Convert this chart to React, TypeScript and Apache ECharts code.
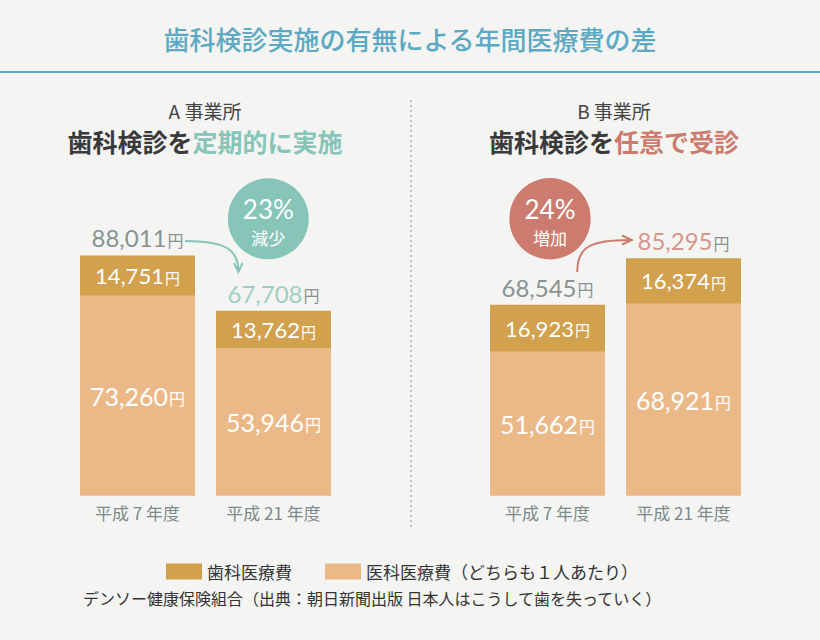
import React, { useEffect, useRef } from "react";
import * as echarts from "echarts";

// ---- data ----
const years = ["平成 7 年度", "平成 21 年度"];
const dentalA = [14751, 13762];
const medicalA = [73260, 53946];
const totalA = [88011, 67708];
const dentalB = [16923, 16374];
const medicalB = [51662, 68921];
const totalB = [68545, 85295];
const changeA = { pct: "23", word: "減少" };
const changeB = { pct: "24", word: "増加" };
const dentalName = "歯科医療費";
const medicalName = "医科医療費（どちらも１人あたり）";

const CJK = '"Noto Sans CJK JP", "Noto Sans", sans-serif';
const NUM = 'Lato, "Noto Sans", sans-serif';
const C_DENTAL = "#d1a14e";
const C_MED = "#ebb988";
const C_TEAL = "#86c5b8";
const C_SALMON = "#cc7b6e";
const C_GRAY = "#687878";
const C_BLUE = "#5ba9c2";

const fmt = (v: number) => v.toLocaleString("en-US");

function barSeries(name: string, data: number[], color: string, idx: number, stack: string, rich: "dental" | "med") {
  return {
    type: "bar",
    name,
    xAxisIndex: idx,
    yAxisIndex: idx,
    stack,
    barWidth: 115,
    data,
    itemStyle: { color },
    label: {
      show: true,
      position: "inside",
      formatter: (p: any) => `{n|${fmt(p.value)}}{y|円}`,
      rich:
        rich === "dental"
          ? {
              n: { fontFamily: NUM, fontSize: 22, fontWeight: 400, color: "#fff" },
              y: { fontFamily: CJK, fontSize: 15, color: "#fff", padding: [3, 0, 0, 1] },
            }
          : {
              n: { fontFamily: NUM, fontSize: 25, fontWeight: 400, color: "#fff" },
              y: { fontFamily: CJK, fontSize: 16, color: "#fff", padding: [4, 0, 0, 1] },
            },
    },
  };
}

function totalSeries(data: number[], idx: number, hlKey: string) {
  return {
    type: "scatter",
    xAxisIndex: idx,
    yAxisIndex: idx,
    symbolSize: 1,
    itemStyle: { color: "transparent" },
    silent: true,
    data,
    label: {
      show: true,
      position: "top",
      distance: 5,
      formatter: (p: any) => `{${p.dataIndex === 0 ? "n" : hlKey}|${fmt(p.value)}}{y|円}`,
      rich: {
        n: { fontFamily: NUM, fontSize: 24, fontWeight: 400, color: C_GRAY },
        t: { fontFamily: NUM, fontSize: 24, fontWeight: 400, color: C_TEAL },
        s: { fontFamily: NUM, fontSize: 24, fontWeight: 400, color: C_SALMON },
        y: { fontFamily: CJK, fontSize: 16, color: C_GRAY, padding: [4, 0, 0, 1] },
      },
    },
  };
}

export default function App() {
  const ref = useRef<HTMLDivElement>(null);
  useEffect(() => {
    document.body.style.margin = "0";
    const chart = echarts.init(ref.current!, null, { renderer: "svg" });
    const grids = [
      { left: 69.5, width: 272, top: 222.7, height: 273 },
      { left: 479.5, width: 272, top: 217.2, height: 278.5 },
    ];
    const xAxis = grids.map((_, i) => ({
      type: "category",
      gridIndex: i,
      data: years,
      axisLine: { show: false },
      axisTick: { show: false },
      axisLabel: { margin: 8, fontFamily: CJK, fontSize: 17, color: "#7b8a8a" },
    }));
    const yAxis = grids.map((_, i) => ({
      type: "value",
      gridIndex: i,
      min: 0,
      max: 100000,
      show: false,
      splitLine: { show: false },
    }));
    const option: any = {
      animation: false,
      backgroundColor: "#f4f4f2",
      grid: grids,
      xAxis,
      yAxis,
      legend: {
        left: 161,
        top: 558,
        itemWidth: 36,
        itemHeight: 16,
        itemGap: 33,
        icon: "rect",
        data: [dentalName, medicalName],
        selectedMode: false,
        textStyle: { fontFamily: CJK, fontSize: 17, color: "#333" },
      },
      series: [
        barSeries(medicalName, medicalA, C_MED, 0, "a", "med"),
        barSeries(dentalName, dentalA, C_DENTAL, 0, "a", "dental"),
        barSeries(medicalName, medicalB, C_MED, 1, "b", "med"),
        barSeries(dentalName, dentalB, C_DENTAL, 1, "b", "dental"),
        totalSeries(totalA, 0, "t"),
        totalSeries(totalB, 1, "s"),
      ],
      graphic: [
        // title
        {
          type: "text",
          x: 410,
          y: 38,
          style: {
            text: "歯科検診実施の有無による年間医療費の差",
            fontFamily: CJK,
            fontSize: 26,
            fontWeight: 500,
            fill: C_BLUE,
            align: "center",
            verticalAlign: "middle",
          },
        },
        { type: "rect", shape: { x: 0, y: 71, width: 820, height: 2 }, style: { fill: C_BLUE } },
        // divider
        {
          type: "line",
          shape: { x1: 411, y1: 100, x2: 411, y2: 530 },
          style: { stroke: "#8a8a8a", lineWidth: 1, lineDash: [2, 3] },
        },
        // panel headings
        {
          type: "text",
          x: 205,
          y: 110,
          style: { text: "A 事業所", fontFamily: CJK, fontSize: 19, fill: "#444", align: "center", verticalAlign: "middle" },
        },
        {
          type: "text",
          x: 205,
          y: 141,
          style: {
            text: "{a|歯科検診を}{b|定期的に実施}",
            align: "center",
            verticalAlign: "middle",
            rich: {
              a: { fontFamily: CJK, fontSize: 25, fontWeight: "bold", fill: "#3a3a3a", color: "#3a3a3a" },
              b: { fontFamily: CJK, fontSize: 25, fontWeight: "bold", fill: C_TEAL, color: C_TEAL },
            },
          },
        },
        {
          type: "text",
          x: 614,
          y: 110,
          style: { text: "B 事業所", fontFamily: CJK, fontSize: 19, fill: "#444", align: "center", verticalAlign: "middle" },
        },
        {
          type: "text",
          x: 614,
          y: 141,
          style: {
            text: "{a|歯科検診を}{b|任意で受診}",
            align: "center",
            verticalAlign: "middle",
            rich: {
              a: { fontFamily: CJK, fontSize: 25, fontWeight: "bold", fill: "#3a3a3a", color: "#3a3a3a" },
              b: { fontFamily: CJK, fontSize: 25, fontWeight: "bold", fill: C_SALMON, color: C_SALMON },
            },
          },
        },
        // circle A
        { type: "circle", shape: { cx: 268.3, cy: 218.8, r: 40.5 }, style: { fill: C_TEAL } },
        {
          type: "text",
          x: 268.3,
          y: 209,
          style: {
            text: `${changeA.pct}%`,
            fontFamily: NUM,
            fontSize: 26,
            fill: "#fff",
            align: "center",
            verticalAlign: "middle",
          },
        },
        {
          type: "text",
          x: 268.3,
          y: 237,
          style: { text: changeA.word, fontFamily: CJK, fontSize: 17, fill: "#fff", align: "center", verticalAlign: "middle" },
        },
        // arrow A
        {
          type: "bezierCurve",
          shape: { x1: 185, y1: 241, cpx1: 226, cpy1: 241, cpx2: 238, cpy2: 250, x2: 238.3, y2: 270 },
          style: { stroke: C_TEAL, lineWidth: 2, fill: "none" },
        },
        {
          type: "polyline",
          shape: { points: [[234, 263], [238.3, 272], [242.6, 263]] },
          style: { stroke: C_TEAL, lineWidth: 2, fill: "none" },
        },
        // circle B
        { type: "circle", shape: { cx: 550, cy: 218.7, r: 40.7 }, style: { fill: C_SALMON } },
        {
          type: "text",
          x: 550,
          y: 209,
          style: {
            text: `${changeB.pct}%`,
            fontFamily: NUM,
            fontSize: 26,
            fill: "#fff",
            align: "center",
            verticalAlign: "middle",
          },
        },
        {
          type: "text",
          x: 550,
          y: 237,
          style: { text: changeB.word, fontFamily: CJK, fontSize: 17, fill: "#fff", align: "center", verticalAlign: "middle" },
        },
        // arrow B
        {
          type: "bezierCurve",
          shape: { x1: 577.3, y1: 272, cpx1: 577, cpy1: 246, cpx2: 592, cpy2: 240, x2: 630, y2: 240 },
          style: { stroke: C_SALMON, lineWidth: 2, fill: "none" },
        },
        {
          type: "polyline",
          shape: { points: [[622, 235.5], [631.7, 240], [622, 244.5]] },
          style: { stroke: C_SALMON, lineWidth: 2, fill: "none" },
        },
        // source
        {
          type: "text",
          x: 83,
          y: 598,
          style: {
            text: "デンソー健康保険組合（出典：朝日新聞出版 日本人はこうして歯を失っていく）",
            fontFamily: CJK,
            fontSize: 16,
            fill: "#333",
            verticalAlign: "middle",
          },
        },
      ],
    };
    chart.setOption(option);
    return () => chart.dispose();
  }, []);
  return <div ref={ref} style={{ width: 820, height: 640 }} />;
}
